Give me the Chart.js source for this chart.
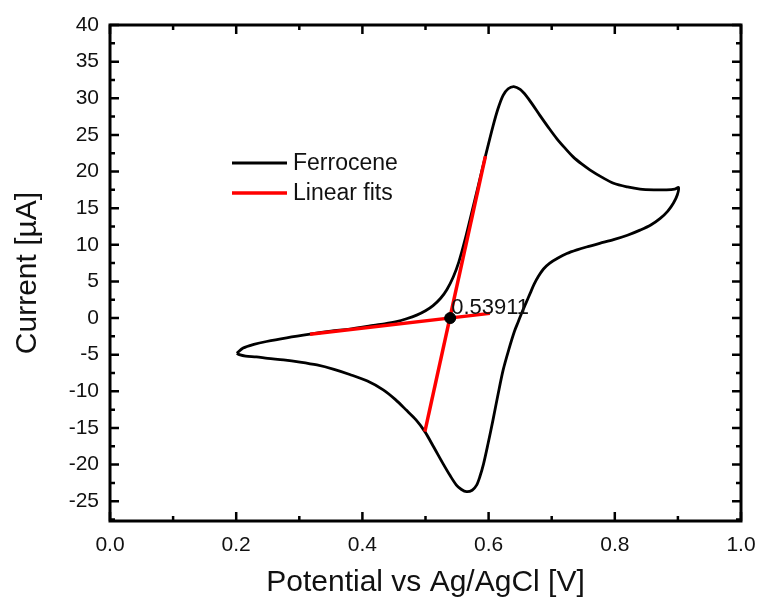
<!DOCTYPE html>
<html>
<head>
<meta charset="utf-8">
<script src="https://cdn.jsdelivr.net/npm/chart.js@4.4.1/dist/chart.umd.min.js"></script>
<style>
  html, body { margin: 0; padding: 0; background: #fff; }
</style>
</head>
<body>
<canvas id="cvChart" width="761" height="608"></canvas>
<script>
// ===== Data =====
// Ferrocene CV loop, forward scan from 0.2 V to 0.9 V and back
const cvX = [0.201, 0.211, 0.228, 0.248, 0.280, 0.317, 0.350, 0.380, 0.410, 0.435,
  0.454, 0.470, 0.486, 0.500, 0.512, 0.524, 0.534, 0.544, 0.553, 0.563,
  0.573, 0.584, 0.595, 0.607, 0.615, 0.623, 0.631, 0.640, 0.650, 0.660,
  0.670, 0.681, 0.695, 0.708, 0.720, 0.734, 0.748, 0.761, 0.780, 0.798,
  0.820, 0.840, 0.862, 0.882, 0.895, 0.901,
  0.899, 0.893, 0.884, 0.872, 0.857, 0.840, 0.820, 0.798, 0.776, 0.755,
  0.740, 0.724, 0.710, 0.697, 0.687, 0.679, 0.672, 0.666, 0.659, 0.652,
  0.647, 0.641, 0.632, 0.623, 0.615, 0.607, 0.599, 0.592, 0.586, 0.581,
  0.574, 0.565, 0.557, 0.549, 0.539, 0.528, 0.513, 0.499, 0.485, 0.470,
  0.452, 0.433, 0.408, 0.380, 0.355, 0.328, 0.301, 0.275, 0.250, 0.232,
  0.215, 0.205, 0.201];
const cvY = [-4.8, -4.1, -3.6, -3.2, -2.7, -2.2, -1.8, -1.5, -1.1, -0.8,
  -0.5, -0.1, 0.4, 1.0, 1.7, 2.7, 3.9, 5.6, 7.7, 10.8,
  14.3, 18.2, 22.1, 26.2, 28.6, 30.4, 31.3, 31.6, 31.2, 30.3,
  29.1, 27.7, 26.0, 24.5, 23.3, 22.0, 21.0, 20.2, 19.2, 18.4,
  17.9, 17.6, 17.5, 17.5, 17.6, 17.8,
  16.8, 15.7, 14.6, 13.6, 12.7, 12.0, 11.3, 10.7, 10.2, 9.7,
  9.3, 8.8, 8.2, 7.5, 6.7, 5.7, 4.6, 3.4, 2.0, 0.6,
  -0.5, -1.8, -4.3, -7.1, -10.4, -13.9, -17.2, -19.9, -21.7, -22.8,
  -23.5, -23.7, -23.4, -22.8, -21.5, -19.9, -17.6, -15.5, -13.9, -12.6,
  -11.1, -9.8, -8.6, -7.7, -7.0, -6.4, -6.0, -5.7, -5.5, -5.3,
  -5.2, -5.0, -4.8];

// Linear fits (baseline and rising part)
const fitAX = [0.317, 0.602];
const fitAY = [-2.2, 0.64];
const fitBX = [0.499, 0.595];
const fitBY = [-15.5, 22.1];

// Intersection point
const crossX = [0.5391];
const crossY = [0];
const crossLabel = "0.53911";

// Axis ticks
const xTicks = [0, 0.2, 0.4, 0.6, 0.8, 1.0];
const xMinor = [0.1, 0.3, 0.5, 0.7, 0.9];
const yTicks = [-25, -20, -15, -10, -5, 0, 5, 10, 15, 20, 25, 30, 35, 40];
const yMinor = [-27.5, -22.5, -17.5, -12.5, -7.5, -2.5, 2.5, 7.5, 12.5, 17.5, 22.5, 27.5, 32.5, 37.5];

const toPoints = (xs, ys) => xs.map((x, i) => ({ x: x, y: ys[i] }));

const FONT = "'Liberation Sans', Arial, sans-serif";
Chart.defaults.font.family = FONT;
Chart.defaults.color = "#111";

// ===== Frame, inward ticks, point label and legend =====
const framePlugin = {
  id: "frame",
  afterDatasetsDraw(chart) {
    const { ctx, chartArea: a, scales: { x, y } } = chart;
    ctx.save();
    ctx.strokeStyle = "#000";
    ctx.lineWidth = 2.5;
    ctx.beginPath();
    const tickX = (vals, len) => vals.forEach(v => {
      const px = x.getPixelForValue(v);
      ctx.moveTo(px, a.bottom); ctx.lineTo(px, a.bottom - len);
      ctx.moveTo(px, a.top); ctx.lineTo(px, a.top + len);
    });
    const tickY = (vals, len) => vals.forEach(v => {
      const py = y.getPixelForValue(v);
      ctx.moveTo(a.left, py); ctx.lineTo(a.left + len, py);
      ctx.moveTo(a.right, py); ctx.lineTo(a.right - len, py);
    });
    tickX(xTicks, 9); tickX(xMinor, 5);
    tickY(yTicks, 9); tickY(yMinor, 5);
    ctx.stroke();

    ctx.lineWidth = 3;
    ctx.strokeRect(a.left, a.top, a.right - a.left, a.bottom - a.top);

    // value label next to the intersection
    ctx.fillStyle = "#111";
    ctx.font = "22px " + FONT;
    ctx.textBaseline = "alphabetic";
    ctx.textAlign = "left";
    ctx.fillText(crossLabel, x.getPixelForValue(crossX[0]) + 1, y.getPixelForValue(crossY[0]) - 4);

    // legend
    const items = chart.data.datasets.filter(d => d.inLegend);
    ctx.font = "23px " + FONT;
    ctx.textBaseline = "middle";
    items.forEach((d, i) => {
      const ly = a.top + 138 + i * 30;
      const lx = a.left + 122;
      ctx.strokeStyle = d.borderColor;
      ctx.lineWidth = d.borderWidth;
      ctx.beginPath();
      ctx.moveTo(lx, ly); ctx.lineTo(lx + 55, ly);
      ctx.stroke();
      ctx.fillText(d.label, lx + 61, ly + 1);
    });
    ctx.restore();
  }
};

// ===== Chart =====
const ctx = document.getElementById("cvChart").getContext("2d");
new Chart(ctx, {
  type: "scatter",
  data: {
    datasets: [
      {
        label: "Ferrocene",
        inLegend: true,
        data: toPoints(cvX, cvY),
        showLine: true,
        borderColor: "#000",
        borderWidth: 2.8,
        pointRadius: 0,
        tension: 0.3,
        order: 3
      },
      {
        label: "Linear fits",
        inLegend: true,
        data: toPoints(fitAX, fitAY),
        showLine: true,
        borderColor: "#ff0000",
        borderWidth: 3.5,
        pointRadius: 0,
        order: 2
      },
      {
        label: "Linear fit 2",
        data: toPoints(fitBX, fitBY),
        showLine: true,
        borderColor: "#ff0000",
        borderWidth: 3.5,
        pointRadius: 0,
        order: 2
      },
      {
        label: "Intersection",
        data: toPoints(crossX, crossY),
        pointRadius: 5.5,
        pointBackgroundColor: "#000",
        pointBorderColor: "#000",
        showLine: false,
        order: 1
      }
    ]
  },
  options: {
    responsive: false,
    animation: false,
    layout: { padding: { top: 25, right: 20, left: 0, bottom: 0 } },
    plugins: {
      legend: { display: false },
      tooltip: { enabled: false }
    },
    scales: {
      x: {
        type: "linear",
        min: 0,
        max: 1,
        grid: { display: false, drawTicks: false },
        border: { display: false },
        afterBuildTicks: s => { s.ticks = xTicks.map(v => ({ value: v })); },
        afterFit: s => { s.height = 87; s.paddingLeft = 0; s.paddingRight = 0; },
        ticks: {
          padding: 12,
          font: { size: 21 },
          callback: v => Number(v).toFixed(1)
        },
        title: {
          display: true,
          text: "Potential vs Ag/AgCl [V]",
          font: { size: 30 },
          padding: { top: 0, bottom: 7 }
        }
      },
      y: {
        type: "linear",
        min: -27.7,
        max: 40,
        grid: { display: false, drawTicks: false },
        border: { display: false },
        afterBuildTicks: s => { s.ticks = yTicks.map(v => ({ value: v })); },
        afterFit: s => { s.width = 110; },
        ticks: {
          padding: 11,
          font: { size: 21 },
          callback: v => String(v)
        },
        title: {
          display: true,
          text: "Current [µA]",
          font: { size: 30 },
          padding: { top: 10, bottom: 0 }
        }
      }
    }
  },
  plugins: [framePlugin]
});
</script>
</body>
</html>
